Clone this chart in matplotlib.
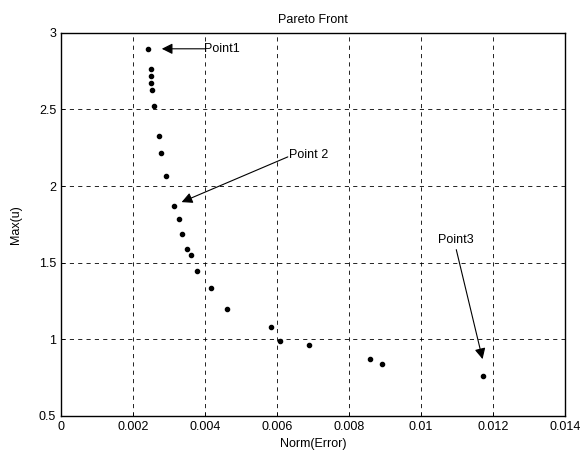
import matplotlib.pyplot as plt

plt.rcParams['font.family'] = ['Liberation Sans', 'DejaVu Sans']

norm_err = [0.00242, 0.00250, 0.00250, 0.00250, 0.00253, 0.00259, 0.00272,
            0.00278, 0.00292, 0.00314, 0.00327, 0.00336, 0.00349, 0.00362,
            0.00379, 0.00418, 0.00461, 0.00582, 0.00607, 0.00689, 0.00857,
            0.00892, 0.01171]
max_u = [2.895, 2.763, 2.720, 2.670, 2.625, 2.523, 2.326,
         2.216, 2.064, 1.867, 1.784, 1.685, 1.590, 1.547,
         1.443, 1.336, 1.196, 1.079, 0.992, 0.962, 0.873,
         0.839, 0.758]

xticks = [0, 0.002, 0.004, 0.006, 0.008, 0.01, 0.012, 0.014]
xticklabels = ['0', '0.002', '0.004', '0.006', '0.008', '0.01', '0.012', '0.014']
yticks = [0.5, 1, 1.5, 2, 2.5, 3]
yticklabels = ['0.5', '1', '1.5', '2', '2.5', '3']

fig = plt.figure(figsize=(5.82, 4.57), dpi=100)
ax = fig.add_axes([61 / 582, 1 - 416 / 457, (565 - 61) / 582, (416 - 32.7) / 457])

ax.plot(norm_err, max_u, 'k.', markersize=6)

ax.set_xlim(0, 0.014)
ax.set_ylim(0.5, 3)
ax.set_xticks(xticks)
ax.set_xticklabels(xticklabels)
ax.set_yticks(yticks)
ax.set_yticklabels(yticklabels)
ax.tick_params(direction='in', length=3, labelsize=9, width=0.6)
ax.grid(True, color='k', linestyle=(0, (5, 5)), linewidth=0.6)
for s in ax.spines.values():
    s.set_linewidth(1.0)

ax.set_title('Pareto Front', fontsize=9, pad=7)
ax.set_xlabel('Norm(Error)', fontsize=9, labelpad=4)
ax.set_ylabel('Max(u)', fontsize=9, labelpad=12)

arrow = dict(arrowstyle='-|>', color='k', lw=0.8, mutation_scale=16,
             shrinkA=0, shrinkB=0)
# point 1
ax.annotate('', xy=(0.0028, 2.895), xytext=(0.0040, 2.895), arrowprops=arrow)
ax.text(0.00398, 2.895, 'Point1', ha='left', va='center', fontsize=9)
# point 2
ax.annotate('', xy=(0.00335, 1.895), xytext=(0.0063, 2.19), arrowprops=arrow)
ax.text(0.00632, 2.20, 'Point 2', ha='left', va='center', fontsize=9)
# point 3
ax.annotate('', xy=(0.01171, 0.871), xytext=(0.01098, 1.585), arrowprops=arrow)
ax.text(0.01097, 1.65, 'Point3', ha='center', va='center', fontsize=9)

plt.savefig('out.png')
